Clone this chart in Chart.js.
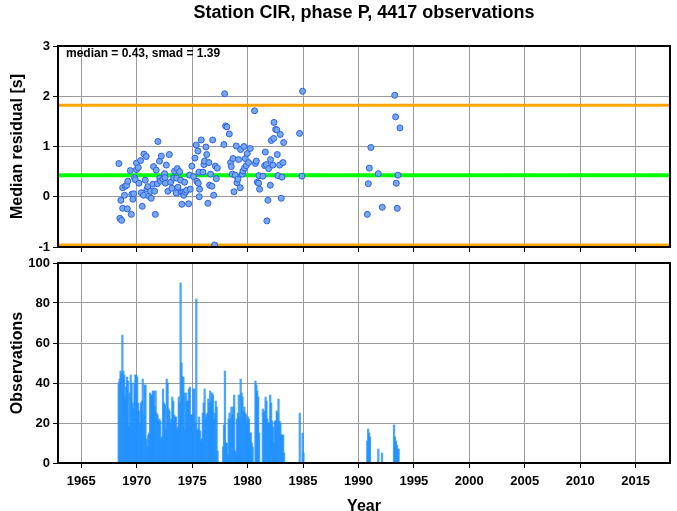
<!DOCTYPE html>
<html>
<head>
<meta charset="utf-8">
<script src="https://cdn.jsdelivr.net/npm/chart.js@4.4.1/dist/chart.umd.min.js"></script>
<style>
  body { margin: 0; background: #fff; }
  #wrap { position: relative; width: 677px; height: 511px; }
  canvas { position: absolute; left: 0; }
  #c1 { top: 0; }
  #c2 { top: 256px; }
</style>
</head>
<body>
<div id="wrap">
  <canvas id="c1" width="677" height="256" style="width:677px;height:256px"></canvas>
  <canvas id="c2" width="677" height="255" style="width:677px;height:255px"></canvas>
</div>
<script>
// Datos
const TITLE = 'Station CIR, phase P, 4417 observations';
const MEDIAN = 0.43;
const SMAD = 1.39;
const X_MIN = 1962.9;
const X_MAX = 2018.1;
const yearTicks = [1965, 1970, 1975, 1980, 1985, 1990, 1995, 2000, 2005, 2010, 2015];

// Mediana mensual del residuo
const residualYears = [
  1968.39, 1968.48, 1968.57, 1968.64, 1968.73, 1968.73, 1968.90, 1968.97, 1969.09, 1969.15,
  1969.20, 1969.42, 1969.51, 1969.56, 1969.65, 1969.72, 1969.80, 1969.87, 1969.98, 1969.98,
  1970.14, 1970.20, 1970.35, 1970.41, 1970.50, 1970.62, 1970.65, 1970.77, 1970.86, 1970.92,
  1971.00, 1971.10, 1971.25, 1971.31, 1971.46, 1971.52, 1971.61, 1971.68, 1971.76, 1971.86,
  1971.91, 1972.06, 1972.09, 1972.15, 1972.22, 1972.36, 1972.51, 1972.55, 1972.58, 1972.67,
  1972.81, 1972.94, 1973.06, 1973.17, 1973.33, 1973.42, 1973.57, 1973.60, 1973.66, 1973.72,
  1973.87, 1973.96, 1974.02, 1974.07, 1974.17, 1974.25, 1974.32, 1974.40, 1974.50, 1974.68,
  1974.77, 1974.83, 1974.98, 1975.13, 1975.25, 1975.37, 1975.42, 1975.52, 1975.55, 1975.61,
  1975.64, 1975.67, 1975.82, 1975.97, 1976.06, 1976.12, 1976.24, 1976.31, 1976.42, 1976.51,
  1976.57, 1976.66, 1976.78, 1976.85, 1976.94, 1977.02, 1977.09, 1977.18, 1977.27, 1977.86,
  1977.93, 1978.02, 1978.13, 1978.35, 1978.47, 1978.53, 1978.62, 1978.68, 1978.77, 1978.89,
  1978.98, 1979.04, 1979.13, 1979.19, 1979.34, 1979.37, 1979.52, 1979.58, 1979.67, 1979.73,
  1979.79, 1979.88, 1979.97, 1980.09, 1980.24, 1980.63, 1980.70, 1980.79, 1980.88, 1980.99,
  1981.02, 1981.08, 1981.38, 1981.54, 1981.60, 1981.69, 1981.74, 1981.83, 1981.90, 1982.05,
  1982.07, 1982.14, 1982.28, 1982.35, 1982.38, 1982.53, 1982.64, 1982.68, 1982.74, 1982.89,
  1982.95, 1983.04, 1983.10, 1983.19, 1983.25, 1984.69, 1984.90, 1984.96,
  1990.80, 1990.89, 1990.98, 1991.12, 1991.79, 1992.15, 1993.27, 1993.35, 1993.41, 1993.50,
  1993.56, 1993.74
];
const residualMedians = [
  0.66, -0.43, -0.07, -0.47, 0.18, -0.23, 0.03, 0.21, 0.23, -0.24,
  0.31, 0.52, -0.35, 0.05, -0.05, 0.06, 0.38, 0.34, 0.54, 0.67,
  0.58, 0.27, 0.72, 0.08, -0.19, 0.03, 0.85, 0.33, 0.80, 0.15,
  0.20, 0.01, 0.11, -0.03, 0.25, 0.60, 0.11, -0.35, 0.53, 0.26,
  1.10, 0.71, 0.37, 0.31, 0.81, 0.35, 0.46, 0.38, 0.27, 0.63,
  0.11, 0.84, 0.29, 0.17, 0.37, 0.51, 0.07, 0.37, 0.56, 0.19,
  0.50, 0.33, 0.09, -0.15, 0.09, 0.03, 0.29, 0.09, 0.13, -0.14,
  0.43, 0.15, 0.61, 0.40, 0.77, 1.03, 0.31, 0.91, 0.27, 0.49,
  0.00, 0.15, 1.13, 0.49, 0.64, 0.71, 0.99, 0.84, -0.13, 0.68,
  0.23, 0.45, 0.21, 1.13, 0.03, -0.96, 0.61, 0.36, 0.57, 1.04,
  2.05, 1.41, 1.39, 1.25, 0.68, 0.60, 0.45, 0.76, 0.10, 0.43,
  1.01, 0.28, 0.35, 0.74, 0.18, 0.94, 0.45, 0.51, 1.00, 0.57,
  0.76, 0.62, 0.86, 0.68, 0.96, 1.71, 0.66, 0.71, 0.29, 0.27,
  0.42, 0.15, 0.41, 0.62, 0.89, 0.64, -0.48, -0.07, 0.56, 0.23,
  0.74, 1.12, 0.63, 1.16, 1.48, 1.34, 1.33, 0.84, 0.42, 0.63,
  1.24, -0.03, 0.39, 0.68, 1.08, 1.26, 0.41, 2.10,
  -0.35, 0.26, 0.57, 0.98, 0.46, -0.21, 2.02, 1.59, 0.27, -0.23,
  0.43, 1.37
];

// Observaciones por mes: inicio de cada tramo (centro del mes) y conteos
const obsRunStart = [1968.375, 1984.708, 1990.792, 1991.792, 1992.125, 1993.208];
const obsRunCounts = [
  [40, 42, 46, 45, 64, 46, 44, 33, 38, 43,
   41, 18, 35, 44, 40, 30, 27, 40, 44, 44,
   43, 30, 26, 20, 30, 31, 42, 24, 39, 39,
   12, 8, 14, 15, 35, 34, 34, 36, 36, 28,
   36, 25, 24, 21, 22, 21, 12, 13, 37, 30,
   29, 17, 42, 40, 27, 26, 20, 22, 33, 31,
   24, 23, 23, 17, 18, 33, 30, 90, 50, 43,
   43, 35, 17, 35, 31, 31, 37, 38, 24, 24,
   24, 37, 37, 20, 82, 16, 17, 23, 16, 11,
   12, 25, 30, 37, 22, 24, 25, 32, 30, 36,
   31, 35, 34, 22, 25, 31, 28, 6, 0, 0,
   0, 0, 0, 8, 19, 46, 10, 10, 4, 22,
   25, 22, 28, 24, 28, 34, 6, 5, 22, 25,
   34, 23, 42, 35, 33, 26, 28, 25, 24, 20,
   23, 22, 15, 15, 10, 8, 0, 0, 41, 39,
   36, 33, 15, 0, 0, 0, 27, 25, 26, 33,
   31, 22, 20, 20, 34, 30, 21, 18, 10, 21,
   21, 26, 25, 32, 21, 20, 14, 14, 14, 5],
  [25, 0, 0, 15, 5],
  [11, 17, 15, 13],
  [7],
  [5],
  [19, 13, 11, 9, 7, 7]
];

const FONT = '"Liberation Sans", Arial, Helvetica, sans-serif';

const residualPoints = residualYears.map((x, i) => ({ x: x, y: residualMedians[i] }));
const obsBars = [];
obsRunCounts.forEach((counts, r) => {
    counts.forEach((c, k) => obsBars.push({ x: obsRunStart[r] + k / 12, y: c }));
});

function hLine(value) {
    return [{ x: X_MIN, y: value }, { x: X_MAX, y: value }];
}

function xScale(showLabels, height) {
    return {
        type: 'linear',
        min: X_MIN,
        max: X_MAX,
        offset: false,
        afterBuildTicks: s => { s.ticks = yearTicks.map(v => ({ value: v })); },
        afterFit: s => { s.height = height; s.paddingLeft = 0; s.paddingRight = 0; },
        grid: { color: '#9a9a9a', lineWidth: 1, offset: false, tickColor: '#000', tickLength: 5 },
        border: { display: false },
        ticks: {
            display: showLabels,
            autoSkip: false,
            maxRotation: 0,
            padding: 6,
            color: '#000',
            font: { family: FONT, size: 13, weight: 'bold' },
            callback: v => String(v)
        }
    };
}

function yScale(min, max, step) {
    return {
        min: min,
        max: max,
        afterFit: s => { s.width = 58; s.paddingTop = 0; s.paddingBottom = 0; },
        grid: { color: '#9a9a9a', lineWidth: 1, tickColor: '#000', tickLength: 5 },
        border: { display: false },
        ticks: {
            stepSize: step,
            padding: 3,
            color: '#000',
            font: { family: FONT, size: 13, weight: 'bold' }
        }
    };
}

function drawFrame(ctx, a) {
    ctx.strokeStyle = '#000';
    ctx.lineWidth = 2;
    ctx.strokeRect(a.left, a.top, a.right - a.left, a.bottom - a.top);
}

function drawYTitle(ctx, a, text) {
    ctx.save();
    ctx.translate(18, (a.top + a.bottom) / 2);
    ctx.rotate(-Math.PI / 2);
    ctx.textAlign = 'center';
    ctx.textBaseline = 'middle';
    ctx.font = 'bold 16px ' + FONT;
    ctx.fillText(text, 0, 0);
    ctx.restore();
}

const deco1 = {
    id: 'deco1',
    afterDraw(chart) {
        const ctx = chart.ctx, a = chart.chartArea;
        ctx.save();
        drawFrame(ctx, a);
        ctx.fillStyle = '#000';
        ctx.textAlign = 'center';
        ctx.textBaseline = 'middle';
        ctx.font = 'bold 18px ' + FONT;
        ctx.fillText(TITLE, (a.left + a.right) / 2, 13);
        ctx.textAlign = 'left';
        ctx.font = 'bold 12px ' + FONT;
        ctx.fillText('median = ' + MEDIAN.toFixed(2) + ', smad = ' + SMAD.toFixed(2), a.left + 8, a.top + 8);
        drawYTitle(ctx, a, 'Median residual [s]');
        ctx.restore();
    }
};

const deco2 = {
    id: 'deco2',
    afterDraw(chart) {
        const ctx = chart.ctx, a = chart.chartArea;
        ctx.save();
        drawFrame(ctx, a);
        ctx.fillStyle = '#000';
        drawYTitle(ctx, a, 'Observations');
        ctx.textAlign = 'center';
        ctx.textBaseline = 'middle';
        ctx.font = 'bold 16px ' + FONT;
        ctx.fillText('Year', (a.left + a.right) / 2, 251);
        ctx.restore();
    }
};

// Panel superior: residuos
new Chart(document.getElementById('c1'), {
    type: 'scatter',
    data: {
        datasets: [
            {
                data: residualPoints,
                order: 0,
                pointRadius: 3,
                pointBorderWidth: 1,
                backgroundColor: '#74a9f2',
                borderColor: '#2f5fe6'
            },
            {
                type: 'line',
                data: hLine(MEDIAN),
                order: 1,
                borderColor: '#00ff00',
                borderWidth: 4,
                pointRadius: 0
            },
            {
                type: 'line',
                data: hLine(MEDIAN + SMAD),
                order: 2,
                borderColor: '#ffa500',
                borderWidth: 3,
                pointRadius: 0
            },
            {
                type: 'line',
                data: hLine(MEDIAN - SMAD),
                order: 2,
                borderColor: '#ffa500',
                borderWidth: 3,
                pointRadius: 0
            }
        ]
    },
    options: {
        responsive: false,
        animation: false,
        layout: { autoPadding: false, padding: { top: 46, right: 7, left: 0, bottom: 0 } },
        plugins: { legend: { display: false }, tooltip: { enabled: false } },
        scales: {
            x: xScale(false, 9),
            y: yScale(-1, 3, 1)
        }
    },
    plugins: [deco1]
});

// Panel inferior: observaciones
new Chart(document.getElementById('c2'), {
    type: 'bar',
    data: {
        datasets: [{
            data: obsBars,
            backgroundColor: 'rgba(30,144,255,0.8)',
            borderWidth: 0,
            barThickness: 1.6,
            grouped: false
        }]
    },
    options: {
        responsive: false,
        animation: false,
        layout: { autoPadding: false, padding: { top: 7, right: 7, left: 0, bottom: 0 } },
        plugins: { legend: { display: false }, tooltip: { enabled: false } },
        scales: {
            x: xScale(true, 48),
            y: yScale(0, 100, 20)
        }
    },
    plugins: [deco2]
});
</script>
</body>
</html>
